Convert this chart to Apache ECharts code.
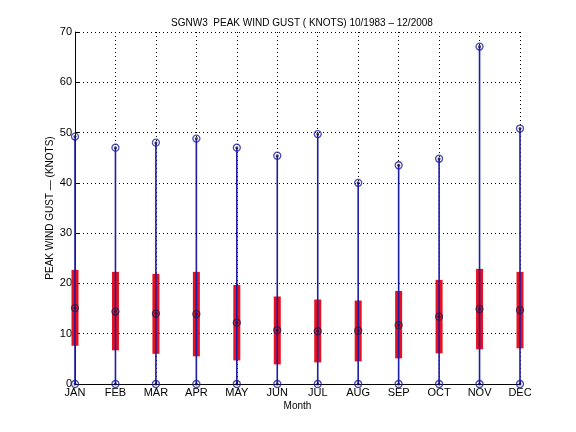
<!DOCTYPE html>
<html>
<head>
<meta charset="utf-8">
<script src="https://cdn.jsdelivr.net/npm/echarts@6/dist/echarts.min.js"></script>
<style>
html, body { margin: 0; padding: 0; background: #fff; }
#main { width: 576px; height: 432px; }
</style>
</head>
<body>
<div id="main"></div>
<script>
var months = ['JAN', 'FEB', 'MAR', 'APR', 'MAY', 'JUN', 'JUL', 'AUG', 'SEP', 'OCT', 'NOV', 'DEC'];
var gustMax = [49.2, 47.0, 48.0, 48.8, 47.0, 45.4, 49.7, 40.0, 43.5, 44.8, 67.1, 50.8];
var gustMean = [15.1, 14.4, 14.0, 13.9, 12.2, 10.7, 10.5, 10.6, 11.7, 13.4, 14.9, 14.7];
var boxLow = [7.6, 6.7, 6.0, 5.5, 4.7, 3.9, 4.3, 4.5, 5.1, 6.1, 6.9, 7.1];
var boxHigh = [22.7, 22.3, 21.9, 22.3, 19.7, 17.4, 16.8, 16.6, 18.5, 20.7, 22.9, 22.3];
var gustMin = [0, 0, 0, 0, 0, 0, 0, 0, 0, 0, 0, 0];

var myChart = echarts.init(document.getElementById('main'), null, {renderer: 'canvas'});

var font = 'Liberation Sans, Arial, sans-serif';
var dotted = {color: '#000', width: 1, type: [1, 3]};

// stems 0..max and red boxes
var stemData = months.map(function (m, i) { return [i, gustMin[i], gustMax[i]]; });
var boxData = months.map(function (m, i) { return [i, boxLow[i], boxHigh[i]]; });

function ringPoints(arr) {
    return arr.map(function (v, i) { return [i, v]; });
}

option = {
    animation: false,
    backgroundColor: '#fff',
    title: {
        text: 'SGNW3  PEAK WIND GUST ( KNOTS) 10/1983 \u2013 12/2008',
        left: 297,
        top: 13,
        textAlign: 'center',
        textStyle: {fontFamily: font, fontSize: 10, fontWeight: 'normal', color: '#000'}
    },
    grid: {left: 75, right: 56, top: 32, bottom: 48},
    xAxis: {
        type: 'category',
        data: months,
        boundaryGap: false,
        name: 'Month',
        nameLocation: 'middle',
        nameGap: 17,
        nameMoveOverlap: false,
        nameTextStyle: {fontFamily: font, fontSize: 10, color: '#000'},
        axisLine: {lineStyle: {color: '#000', width: 1}},
        axisTick: {show: true, inside: true, length: 4, lineStyle: {color: '#000'}},
        axisLabel: {fontFamily: font, fontSize: 11, color: '#000', margin: 3, interval: 0},
        splitLine: {show: true, lineStyle: dotted}
    },
    yAxis: {
        type: 'value',
        min: 0,
        max: 70,
        interval: 10,
        name: 'PEAK WIND GUST \u2014 (KNOTS)',
        nameLocation: 'middle',
        nameGap: 20,
        nameMoveOverlap: false,
        nameTextStyle: {fontFamily: font, fontSize: 10, color: '#000'},
        axisLine: {show: true, lineStyle: {color: '#000', width: 1}},
        axisTick: {show: true, inside: true, length: 4, lineStyle: {color: '#000'}},
        axisLabel: {fontFamily: font, fontSize: 11, color: '#000', margin: 3},
        splitLine: {show: true, lineStyle: dotted}
    },
    series: [
        {
            name: 'box',
            type: 'custom',
            z: 2,
            renderItem: function (params, api) {
                var lo = api.coord([api.value(0), api.value(1)]);
                var hi = api.coord([api.value(0), api.value(2)]);
                return {
                    type: 'rect',
                    shape: {x: lo[0] - 3.5, y: hi[1], width: 7, height: lo[1] - hi[1]},
                    style: {fill: '#e8101e'}
                };
            },
            data: boxData
        },
        {
            name: 'stem',
            type: 'custom',
            z: 3,
            renderItem: function (params, api) {
                var p0 = api.coord([api.value(0), api.value(1)]);
                var p1 = api.coord([api.value(0), api.value(2)]);
                return {
                    type: 'line',
                    shape: {x1: p0[0], y1: p0[1], x2: p1[0], y2: p1[1]},
                    style: {stroke: '#1c1ca8', lineWidth: 1.6}
                };
            },
            data: stemData
        },
        {
            name: 'max',
            type: 'scatter',
            z: 4,
            symbol: 'circle',
            symbolSize: 7,
            itemStyle: {color: 'rgba(0,0,0,0)', borderColor: '#1c1ca8', borderWidth: 1.3},
            data: ringPoints(gustMax)
        },
        {
            name: 'min',
            type: 'scatter',
            z: 4,
            symbol: 'circle',
            symbolSize: 7,
            itemStyle: {color: 'rgba(0,0,0,0)', borderColor: '#1c1ca8', borderWidth: 1.3},
            data: ringPoints(gustMin)
        },
        {
            name: 'mean',
            type: 'scatter',
            z: 4,
            symbol: 'circle',
            symbolSize: 7,
            itemStyle: {color: 'rgba(0,0,0,0)', borderColor: '#1a1a50', borderWidth: 1.3},
            data: ringPoints(gustMean)
        },
        {
            name: 'dots',
            type: 'scatter',
            z: 5,
            symbol: 'circle',
            symbolSize: 3,
            itemStyle: {color: '#101040'},
            data: ringPoints(gustMax).concat(ringPoints(gustMin), ringPoints(gustMean))
        }
    ]
};

myChart.setOption(option);
</script>
</body>
</html>
